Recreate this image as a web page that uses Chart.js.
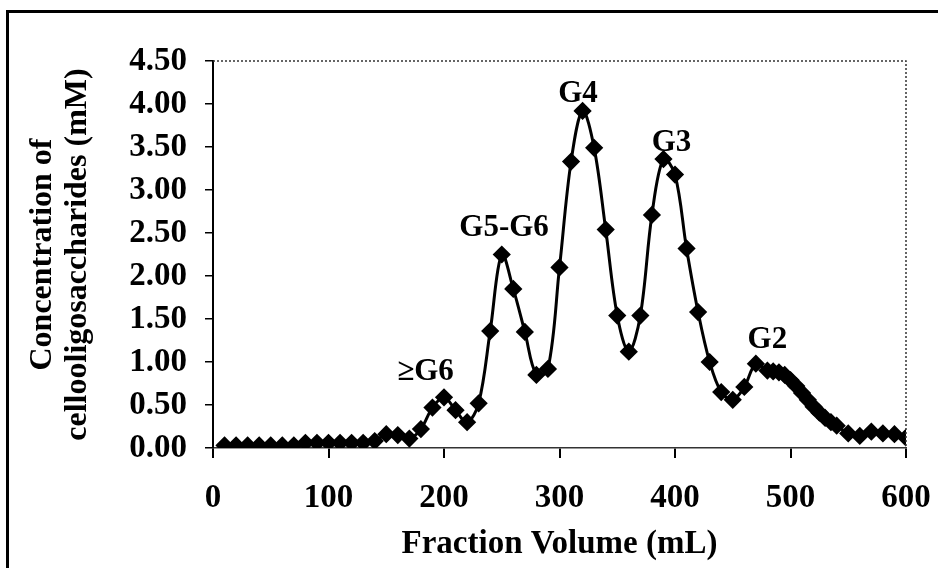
<!DOCTYPE html>
<html>
<head>
<meta charset="utf-8">
<script src="https://cdn.jsdelivr.net/npm/chart.js@4/dist/chart.umd.min.js"></script>
<style>
  html, body { margin: 0; padding: 0; background: #fff; }
  #wrap { width: 938px; height: 568px; position: relative; }
</style>
</head>
<body>
<div id="wrap"><canvas id="myChart"></canvas></div>
<script>
// fraction volume (mL) and cellooligosaccharide concentration (mM)
const volume = [10, 20, 30, 40, 50, 60, 70, 80, 90, 100, 110, 120, 130, 140, 150, 160, 170, 180, 190, 200,
  210, 220, 230, 240, 250, 260, 270, 280, 290, 300, 310, 320, 330, 340, 350, 360, 370, 380, 390, 400,
  410, 420, 430, 440, 450, 460, 470, 480, 485, 490, 495, 500, 505, 510, 515, 520, 525, 530, 535, 540,
  550, 560, 570, 580, 590, 600];
const conc = [0.03, 0.03, 0.03, 0.03, 0.03, 0.03, 0.03, 0.06, 0.06, 0.06, 0.06, 0.06, 0.06, 0.08, 0.16, 0.15, 0.11, 0.22, 0.47, 0.59,
  0.44, 0.30, 0.52, 1.36, 2.25, 1.85, 1.35, 0.85, 0.92, 2.10, 3.33, 3.92, 3.49, 2.54, 1.54, 1.12, 1.54, 2.71, 3.36, 3.18,
  2.32, 1.58, 1.00, 0.65, 0.56, 0.71, 0.98, 0.90, 0.89, 0.88, 0.85, 0.79, 0.72, 0.64, 0.56, 0.48, 0.41, 0.35, 0.30, 0.26,
  0.17, 0.14, 0.19, 0.17, 0.16, 0.12];

const peakNames = ['≥G6', 'G5-G6', 'G4', 'G3', 'G2'];
const peakX = [184, 252, 316, 397, 480];
const peakY = [0.88, 2.56, 4.12, 3.55, 1.26];

const serif = 'Liberation Serif';

// outer frame + dotted top/right edge of plot + peak labels
const decor = {
  id: 'decor',
  beforeDraw(chart) {
    const c = chart.ctx;
    c.save();
    c.fillStyle = '#fff';
    c.fillRect(0, 0, chart.width, chart.height);
    c.strokeStyle = '#000';
    c.lineWidth = 3;
    c.beginPath();
    c.moveTo(7.5, chart.height);
    c.lineTo(7.5, 11.5);
    c.lineTo(chart.width, 11.5);
    c.stroke();
    c.restore();
  },
  afterDraw(chart) {
    const c = chart.ctx;
    const a = chart.chartArea;
    c.save();
    c.strokeStyle = '#333';
    c.lineWidth = 1.5;
    c.setLineDash([2, 2]);
    c.beginPath();
    c.moveTo(a.left, a.top);
    c.lineTo(a.right, a.top);
    c.lineTo(a.right, a.bottom);
    c.stroke();
    c.setLineDash([]);
    c.fillStyle = '#000';
    c.font = 'bold 31px "' + serif + '"';
    c.textAlign = 'center';
    c.textBaseline = 'middle';
    const xs = chart.scales.x, ys = chart.scales.y;
    peakNames.forEach((t, i) => {
      c.fillText(t, xs.getPixelForValue(peakX[i]), ys.getPixelForValue(peakY[i]));
    });
    c.restore();
  }
};

const ctx = document.getElementById('myChart').getContext('2d');
const myChart = new Chart(ctx, {
  type: 'line',
  data: {
    datasets: [{
      data: volume.map((v, i) => ({ x: v, y: conc[i] })),
      borderColor: '#000',
      backgroundColor: '#000',
      borderWidth: 3,
      tension: 0.35,
      pointStyle: 'rectRot',
      pointRadius: 7,
      pointHoverRadius: 7
    }]
  },
  options: {
    responsive: true,
    maintainAspectRatio: false,
    animation: false,
    layout: { padding: { top: 61, right: 32, left: 0, bottom: 0 } },
    plugins: { legend: { display: false }, tooltip: { enabled: false } },
    scales: {
      x: {
        type: 'linear',
        min: 0, max: 600,
        afterFit(s) { s.height = 120; s.paddingRight = 0; s.paddingLeft = 0; },
        ticks: { stepSize: 100, color: '#000', padding: 21, font: { family: serif, size: 33, weight: 'bold' } },
        grid: { drawOnChartArea: false, color: '#000', lineWidth: 2, tickLength: 10 },
        border: { color: '#333', width: 1.5, dash: [2, 2] },
        title: { display: true, text: 'Fraction Volume (mL)', color: '#000', padding: { top: 0 },
          font: { family: serif, size: 33, weight: 'bold' } }
      },
      y: {
        min: 0, max: 4.5,
        afterFit(s) { s.width = 213; s.paddingTop = 0; s.paddingBottom = 0; },
        ticks: { stepSize: 0.5, color: '#000', padding: 18, callback: v => v.toFixed(2),
          font: { family: serif, size: 33, weight: 'bold' } },
        grid: { drawOnChartArea: false, color: '#000', lineWidth: 1.5, tickLength: 8 },
        border: { color: '#000', width: 2 },
        title: { display: true, text: ['Concentration of', 'cellooligosaccharides (mM)'], color: '#000',
          padding: { top: 25, bottom: 0 }, font: { family: serif, size: 32, weight: 'bold', lineHeight: 1.1 } }
      }
    }
  },
  plugins: [decor]
});
</script>
</body>
</html>
